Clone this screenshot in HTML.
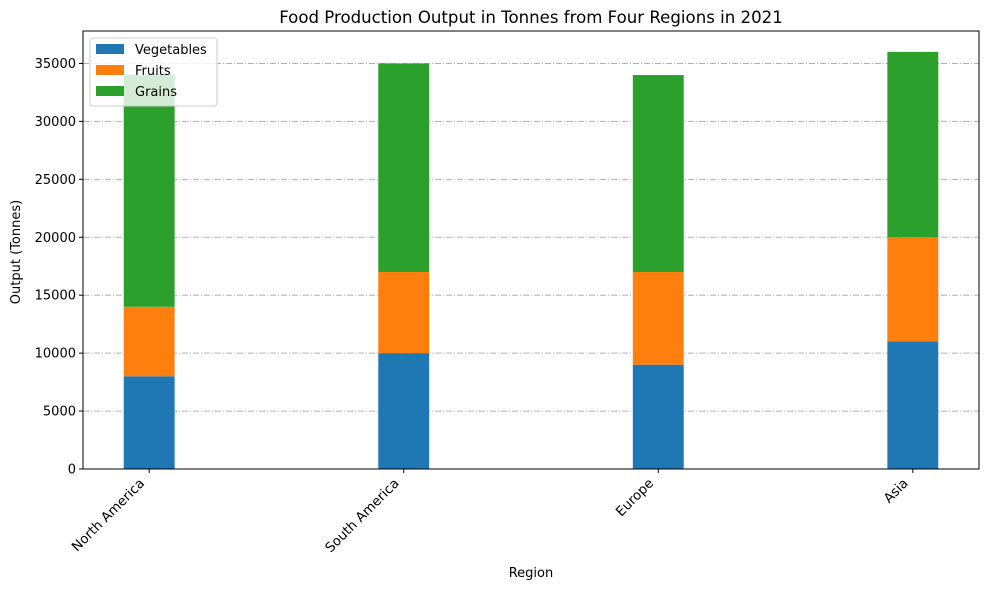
<!DOCTYPE html>
<html><head><meta charset="utf-8"><style>
body{margin:0;background:#fff;font-family:"Liberation Sans","DejaVu Sans",sans-serif;}
svg text{font-family:"DejaVu Sans","Liberation Sans",sans-serif;}
</style></head><body>
<svg id="chart" width="989" height="590" xmlns="http://www.w3.org/2000/svg">
<text x="531" y="23" text-anchor="middle" font-size="16.6" fill="#000">Food Production Output in Tonnes from Four Regions in 2021</text>
<g id="grid"></g><g id="bars"></g><g id="axes"></g>
<text x="531" y="577" text-anchor="middle" font-size="13">Region</text>
<text transform="translate(20,252) rotate(-90)" text-anchor="middle" font-size="13">Output (Tonnes)</text>
<g id="legend"></g>
</svg>
<script>
const categories=["North America","South America","Europe","Asia"];
const vegetables=[8000,10000,9000,11000];
const fruits=[6000,7000,8000,9000];
const grains=[20000,18000,17000,16000];
const yTicks=[0,5000,10000,15000,20000,25000,30000,35000];
const seriesNames=["Vegetables","Fruits","Grains"];
const colors=["#1f77b4","#ff7f0e","#2ca02c"];
const NS="http://www.w3.org/2000/svg";
const L=83,R=979,T=31,B=469;
const totals=categories.map((c,i)=>vegetables[i]+fruits[i]+grains[i]);
const yMax=Math.max(...totals)*1.05;
const y=v=>B-v/yMax*(B-T);
const n=categories.length;
const xMin=-0.26,xMax=n-1+0.26;
const x=i=>L+(i-xMin)/(xMax-xMin)*(R-L);
const bw=0.2*(R-L)/(xMax-xMin);
function el(tag,attrs,parent){const e=document.createElementNS(NS,tag);for(const k in attrs)e.setAttribute(k,attrs[k]);parent.appendChild(e);return e;}
const grid=document.getElementById('grid'),bars=document.getElementById('bars'),axes=document.getElementById('axes'),legend=document.getElementById('legend');
yTicks.forEach(t=>{
 const g=el('line',{x1:L,x2:R,y1:y(t),y2:y(t),stroke:'#b0b0b0','stroke-width':1,'stroke-dasharray':'6,2,1,2'},grid);
 
 
 const tk=el('line',{x1:L-4,x2:L,y1:y(t),y2:y(t),stroke:'#000'},axes);
 
 
 const tx=el('text',{x:L-7,y:y(t)+4.5,'text-anchor':'end','font-size':13},axes);tx.textContent=t;
 
 
});
const series=[vegetables,fruits,grains];
categories.forEach((c,i)=>{
 let base=0;
 series.forEach((s,k)=>{
  const r=el('rect',{x:x(i)-bw/2,width:bw,y:y(base+s[i]),height:y(base)-y(base+s[i]),fill:colors[k]},bars);
  
  
  base+=s[i];
 });
 const tk=el('line',{x1:x(i),x2:x(i),y1:B,y2:B+4,stroke:'#000'},axes);
 
 
 const tx=el('text',{transform:`translate(${x(i)-4},${B+15}) rotate(-45)`,'text-anchor':'end','font-size':13.3},axes);tx.textContent=c;
 
 
});
const fr=el('rect',{x:L,y:T,width:R-L,height:B-T,fill:'none',stroke:'#000','stroke-width':1},axes);


const lb=el('rect',{x:90,y:38,width:127,height:68,rx:3,fill:'#fff','fill-opacity':0.8,stroke:'#ccc'},legend);


seriesNames.forEach((s,k)=>{
 const yy=44+k*21;
 const sw=el('rect',{x:96,y:yy,width:28,height:10,fill:colors[k]},legend);
 
 
 const t=el('text',{x:135,y:yy+10,'font-size':13},legend);t.textContent=s;
 
 
});
</script>
</body></html>
